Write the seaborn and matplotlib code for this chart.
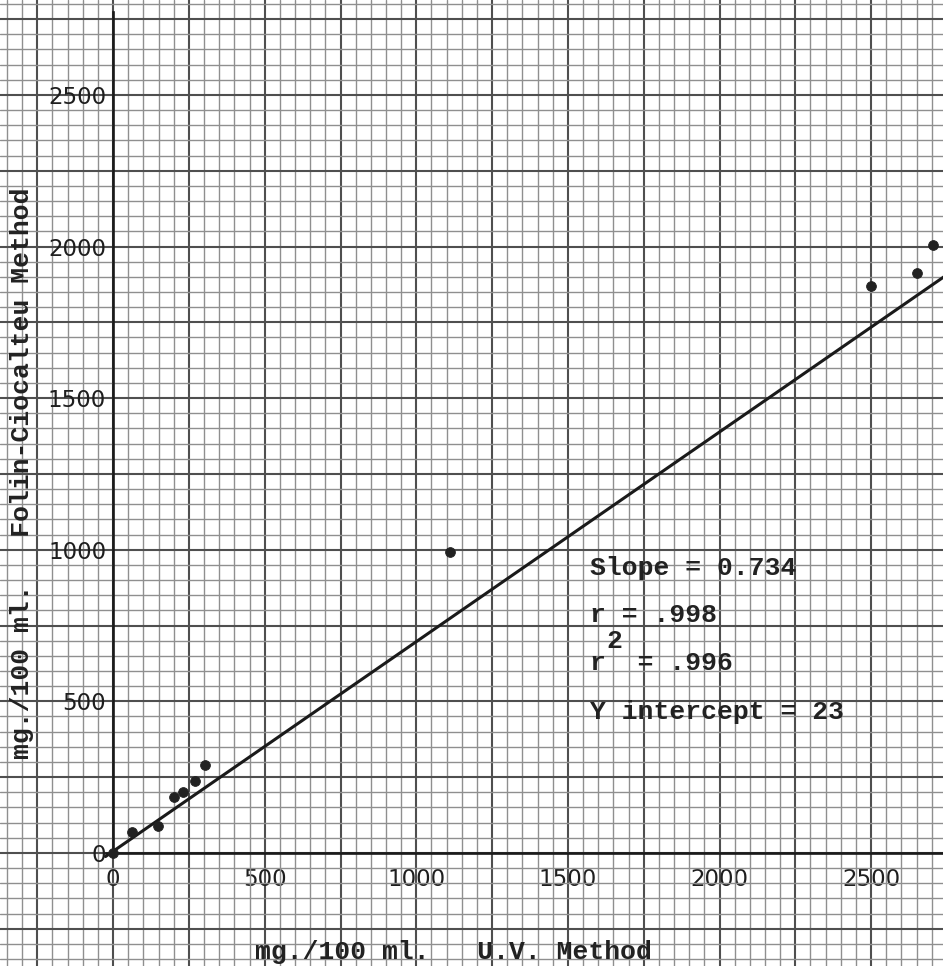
import numpy as np
import pandas as pd
import seaborn as sns
import matplotlib.pyplot as plt
from matplotlib.ticker import MultipleLocator, FuncFormatter

# readings (mg./100 ml.)
uv_method = [0, 63, 148, 201, 231, 270, 303, 1111, 2500, 2652, 2704]
folin_method = [0, 69, 89, 185, 201, 237, 290, 993, 1870, 1913, 2005]

# fitted line as drawn on the paper
fit_x = [-25, 2740]
fit_y = [-12, 1900]

tick_values = [0, 500, 1000, 1500, 2000, 2500]
stats_lines = ['Slope = 0.734', 'r = .998', 'r  = .996', 'Y intercept = 23']
stats_y = [940, 785, 627, 465]

df = pd.DataFrame({'uv': uv_method, 'folin': folin_method})
df_fit = pd.DataFrame({'x': fit_x, 'y': fit_y})

sns.set_theme(style='white')
plt.rcParams['font.family'] = ['Liberation Mono', 'DejaVu Sans Mono']

fig = plt.figure(figsize=(9.43, 9.66), dpi=100)
ax = fig.add_axes([0, 0, 1, 1])
ax.set_facecolor('white')

# graph paper
ax.xaxis.set_major_locator(MultipleLocator(250))
ax.yaxis.set_major_locator(MultipleLocator(250))
ax.xaxis.set_minor_locator(MultipleLocator(50))
ax.yaxis.set_minor_locator(MultipleLocator(50))
ax.grid(which='minor', color='#8f8f8f', lw=1.0)
ax.grid(which='major', color='#4f4f4f', lw=1.5)
ax.set_axisbelow(True)

sns.lineplot(data=df_fit, x='x', y='y', color='#1a1a1a', lw=2.2, sort=False, ax=ax)
sns.scatterplot(data=df, x='uv', y='folin', color='#222222', s=50, edgecolor='#222222', ax=ax, zorder=5)

ax.set_xlim(-373, 2737)
ax.set_ylim(-373, 2813)

for side in ['top', 'right']:
    ax.spines[side].set_visible(False)
ax.spines['left'].set_position(('data', 0))
ax.spines['bottom'].set_position(('data', 0))
ax.spines['left'].set_bounds(0, 2775)
ax.spines['bottom'].set_bounds(-25, 2737)
for side in ['left', 'bottom']:
    ax.spines[side].set_color('#1a1a1a')
    ax.spines[side].set_linewidth(1.9)

fmt = FuncFormatter(lambda v, _: f'{v:.0f}' if v in tick_values else '')
ax.xaxis.set_major_formatter(fmt)
ax.yaxis.set_major_formatter(fmt)
ax.tick_params(axis='both', which='both', length=0, labelsize=16.5, colors='#1e1e1e')
ax.tick_params(axis='x', pad=11)
ax.tick_params(axis='y', pad=5)
for lab in ax.get_xticklabels() + ax.get_yticklabels():
    lab.set_family('DejaVu Sans')

ax.set_xlabel('')
ax.set_ylabel('')

# typed notes
for txt, yv in zip(stats_lines, stats_y):
    ax.text(1573, yv, txt, fontsize=19, fontweight='bold', color='#222222', va='center', ha='left')
ax.annotate('2', xy=(1573, stats_y[2]), xytext=(16, 22), textcoords='offset pixels',
            fontsize=19, fontweight='bold', color='#222222', va='center', ha='left')

fig.text(453 / 943, 1 - 952 / 966, 'mg./100 ml.   U.V. Method', fontsize=19, fontweight='bold',
         color='#222222', ha='center', va='center')
fig.text(22 / 943, 1 - 473 / 966, 'mg./100 ml.   Folin-Ciocalteu Method', fontsize=19,
         fontweight='bold', color='#222222', ha='center', va='center', rotation=90)

plt.savefig('out.png', dpi=100)
